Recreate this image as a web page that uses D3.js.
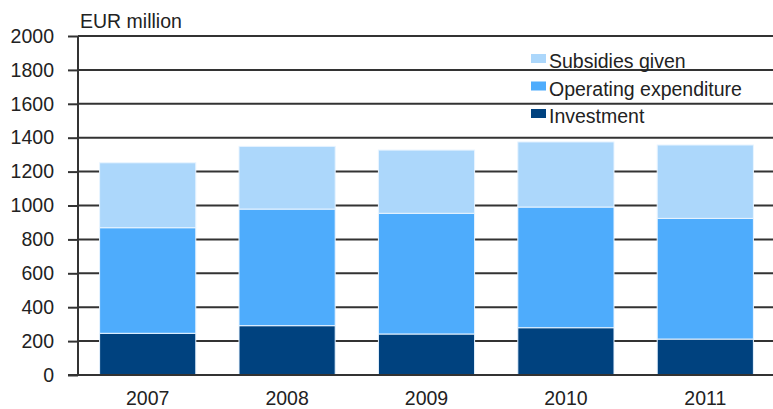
<!DOCTYPE html>
<html>
<head>
<meta charset="utf-8">
<script src="https://cdn.jsdelivr.net/npm/d3@7"></script>
<style>
  body { margin: 0; background: #fff; }
  text { font-family: "Liberation Sans", Arial, sans-serif; fill: #222; }
</style>
</head>
<body>
<div id="chart"></div>
<script>
let years = ['2007', '2008', '2009', '2010', '2011'];
let investment = [246, 291, 242, 279, 212];
let operating = [623, 688, 712, 712, 712];
let subsidies = [383, 370, 373, 384, 433];
let seriesNames = ['Investment', 'Operating expenditure', 'Subsidies given'];
let seriesColors = ['#00427f', '#4eacfc', '#acd7fb'];
let yTicks = [0, 200, 400, 600, 800, 1000, 1200, 1400, 1600, 1800, 2000];

let width = 773, height = 409;

let rows = years.map((y, i) => ({
    year: y,
    'Investment': investment[i],
    'Operating expenditure': operating[i],
    'Subsidies given': subsidies[i]
}));

let stacked = d3.stack().keys(seriesNames)(rows);

let x = d3.scaleBand()
    .domain(years)
    .range([78, 775])
    .paddingInner(0.31)
    .paddingOuter(0.155);

let y = d3.scaleLinear()
    .domain([0, 2000])
    .range([375, 36]);

let color = d3.scaleOrdinal().domain(seriesNames).range(seriesColors);

let svg = d3.select('#chart')
    .append('svg')
    .attr('width', width)
    .attr('height', height);

// tick marks + labels
let yAxis = svg.append('g')
    .attr('transform', 'translate(78,0)')
    .call(d3.axisLeft(y).tickValues(yTicks).tickFormat(d3.format('d')).tickSize(10).tickPadding(14));
yAxis.select('.domain').remove();
yAxis.selectAll('.tick line').attr('stroke', '#333').attr('stroke-width', 2);
yAxis.selectAll('.tick text')
    .style('font-size', '19.5px')
    .attr('fill', '#222');

// gridlines
svg.append('g')
    .selectAll('line')
    .data(yTicks.filter(d => d > 0))
    .join('line')
    .attr('x1', 78)
    .attr('x2', width)
    .attr('y1', d => y(d))
    .attr('y2', d => y(d))
    .attr('stroke', '#333')
    .attr('stroke-width', 2);

// bars
svg.append('g')
    .selectAll('g')
    .data(stacked)
    .join('g')
    .attr('fill', d => color(d.key))
    .selectAll('rect')
    .data(d => d)
    .join('rect')
    .attr('x', d => x(d.data.year))
    .attr('width', x.bandwidth())
    .attr('y', d => y(d[1]))
    .attr('height', d => y(d[0]) - y(d[1]))
    .attr('stroke', '#e8f4ff')
    .attr('stroke-width', 1);

// axis lines
svg.append('line')
    .attr('x1', 78).attr('x2', 78)
    .attr('y1', y(2000)).attr('y2', y(0))
    .attr('stroke', '#333').attr('stroke-width', 2);
svg.append('line')
    .attr('x1', 68).attr('x2', width)
    .attr('y1', y(0)).attr('y2', y(0))
    .attr('stroke', '#333').attr('stroke-width', 2);

// x labels
let xAxis = svg.append('g')
    .attr('transform', `translate(0,${y(0)})`)
    .call(d3.axisBottom(x).tickSize(0).tickPadding(16));
xAxis.select('.domain').remove();
xAxis.selectAll('.tick text')
    .style('font-size', '19.5px')
    .attr('fill', '#222');

// unit title
svg.append('text')
    .attr('x', 80)
    .attr('y', 28)
    .style('font-size', '19.5px')
    .text('EUR million');

// legend
let legendItems = seriesNames.slice().reverse();
let legend = svg.append('g')
    .selectAll('g')
    .data(legendItems)
    .join('g')
    .attr('transform', (d, i) => `translate(531,${54 + i * 27.5})`);
legend.append('rect')
    .attr('width', 15)
    .attr('height', 9)
    .attr('fill', d => color(d));
legend.append('text')
    .attr('x', 18)
    .attr('y', 14)
    .style('font-size', '19.5px')
    .text(d => d);
</script>
</body>
</html>
